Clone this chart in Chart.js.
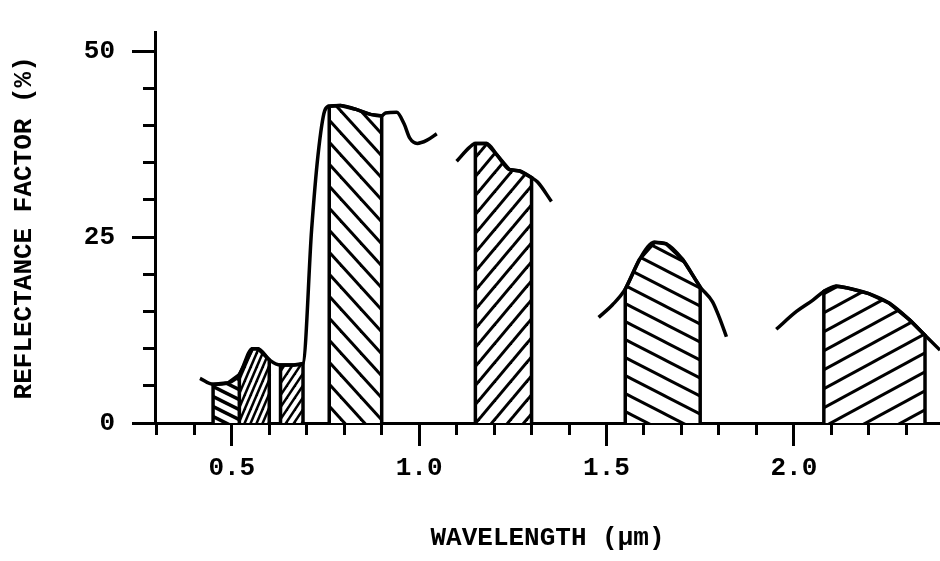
<!DOCTYPE html>
<html>

<head>
    <meta charset="UTF-8">
    <title>Reflectance Factor</title>
    <script src="https://cdn.jsdelivr.net/npm/chart.js"></script>
    <style>
        body { margin: 0; background: #fff; }
        #wrap { width: 940px; height: 561px; position: relative; }
    </style>
</head>

<body>
    <div id="wrap"><canvas id="chart"></canvas></div>
    <script>
        // reflectance curve (null = break in the drawn line)
        var wavelength = [0.415, 0.45, 0.49, 0.52, 0.555, 0.57, 0.60, 0.63, 0.665, 0.69, 0.713, 0.73, 0.748, 0.76,
            0.79, 0.83, 0.87, 0.90, 0.91, 0.94, 0.96, 0.975, 0.995, 1.02, 1.047,
            1.07,
            1.10, 1.135, 1.15, 1.18, 1.207, 1.24, 1.268, 1.30, 1.316, 1.353,
            1.40,
            1.479, 1.516, 1.55, 1.588, 1.628, 1.659, 1.703, 1.75, 1.783, 1.801, 1.82,
            1.90,
            1.953, 2.007, 2.05, 2.08, 2.113, 2.14, 2.20, 2.255, 2.308, 2.35, 2.39];
        var reflectance = [6.0, 5.2, 5.4, 6.5, 10.0, 10.0, 8.5, 7.8, 7.8, 8.0, 26, 36, 42, 42.6,
            42.7, 42.2, 41.5, 41.3, 41.7, 41.8, 40.2, 38.3, 37.6, 38.0, 38.9,
            null,
            35.2, 37.1, 37.6, 37.6, 36.1, 34.1, 33.9, 33.0, 32.4, 29.8,
            null,
            14.2, 15.9, 18.0, 22.0, 24.3, 24.1, 22.0, 18.3, 16.3, 14.2, 11.6,
            null,
            12.6, 15.0, 16.5, 17.7, 18.4, 18.2, 17.4, 16.1, 13.9, 11.8, 9.8];

        // hatched bands (µm)
        var bandStart = [0.45, 0.52, 0.63, 0.76, 1.15, 1.55, 2.08];
        var bandEnd = [0.52, 0.60, 0.69, 0.90, 1.30, 1.75, 2.35];

        var xMajorTicks = [0.5, 1.0, 1.5, 2.0];
        var xTickLabels = ['0.5', '1.0', '1.5', '2.0'];
        var xMinorTicks = [0.3, 0.4, 0.5, 0.6, 0.7, 0.8, 0.9, 1.0, 1.1, 1.2, 1.3, 1.4, 1.5, 1.6, 1.7, 1.8, 1.9, 2.0, 2.1, 2.2, 2.3];
        var yMajorTicks = [0, 25, 50];
        var yMinorTicks = [0, 5, 10, 15, 20, 25, 30, 35, 40, 45, 50];

        // hatch style per band: direction, tile width, tile height, line width
        var hatchDir = ['\\', '/', '/', '\\', '/', '\\', '/'];
        var hatchW = [20, 6, 8, 20, 16, 35, 35];
        var hatchH = [10, 14, 12, 22, 19, 18, 19];
        var hatchLw = [3.5, 2.5, 2.5, 3, 3, 3, 3];

        function hatch(dir, w, h, lw) {
            var c = document.createElement('canvas');
            c.width = w;
            c.height = h;
            var g = c.getContext('2d');
            g.fillStyle = '#fff';
            g.fillRect(0, 0, w, h);
            g.strokeStyle = '#000';
            g.lineWidth = lw;
            for (var k = -1; k <= 1; k++) {
                g.beginPath();
                if (dir === '\\') {
                    g.moveTo(-w, k * h - h);
                    g.lineTo(2 * w, k * h + 2 * h);
                } else {
                    g.moveTo(-w, k * h + 2 * h);
                    g.lineTo(2 * w, k * h - h);
                }
                g.stroke();
            }
            return g.createPattern(c, 'repeat');
        }

        var black = '#000';
        var tickFont = { family: 'Liberation Mono', size: 26, weight: 'bold' };
        var titleFont = { family: 'Liberation Mono', size: 26, weight: 'bold' };

        var datasets = [{
            data: wavelength.map(function (w, i) { return { x: w, y: reflectance[i] }; }),
            borderColor: black,
            borderWidth: 3.5,
            pointRadius: 0,
            fill: false,
            spanGaps: false,
            cubicInterpolationMode: 'monotone',
            order: 0
        }];

        bandStart.forEach(function (s, i) {
            var e = bandEnd[i];
            var pts = [{ x: s, y: 0 }];
            wavelength.forEach(function (w, j) {
                if (w >= s && w <= e && reflectance[j] !== null) pts.push({ x: w, y: reflectance[j] });
            });
            pts.push({ x: e, y: 0 });
            datasets.push({
                data: pts,
                borderColor: black,
                borderWidth: 3.5,
                borderJoinStyle: 'miter',
                backgroundColor: hatch(hatchDir[i], hatchW[i], hatchH[i], hatchLw[i]),
                fill: 'origin',
                pointRadius: 0,
                tension: 0,
                order: 1
            });
        });

        function tickSetter(list) {
            return function (scale) {
                scale.ticks = list.map(function (v) { return { value: v }; });
            };
        }

        var ctx = document.getElementById('chart').getContext('2d');
        var chart = new Chart(ctx, {
            type: 'line',
            data: { datasets: datasets },
            options: {
                responsive: true,
                maintainAspectRatio: false,
                animation: false,
                layout: { padding: { top: 20, left: 0, right: 0, bottom: 0 } },
                plugins: { legend: { display: false }, tooltip: { enabled: false } },
                scales: {
                    x: {
                        type: 'linear',
                        position: 'bottom',
                        weight: 1,
                        min: 0.295,
                        max: 2.39,
                        afterBuildTicks: tickSetter(xMajorTicks),
                        afterFit: function (s) { s.height = 138; },
                        grid: { drawOnChartArea: false, drawTicks: true, tickLength: 23, tickWidth: 3, tickColor: black },
                        border: { display: true, width: 3, color: black },
                        ticks: {
                            autoSkip: false,
                            maxRotation: 0,
                            color: black,
                            font: tickFont,
                            padding: 7,
                            callback: function (v, i) { return xTickLabels[i]; }
                        },
                        title: { display: true, text: 'WAVELENGTH (µm)', color: black, font: titleFont, padding: { top: 0, bottom: 7 } }
                    },
                    xMinor: {
                        type: 'linear',
                        position: 'bottom',
                        weight: 0,
                        min: 0.295,
                        max: 2.39,
                        afterBuildTicks: tickSetter(xMinorTicks),
                        afterFit: function (s) { s.height = 0; },
                        grid: { drawOnChartArea: false, drawTicks: true, tickLength: 12, tickWidth: 3, tickColor: black },
                        border: { display: true, width: 3, color: black },
                        ticks: { display: false }
                    },
                    y: {
                        type: 'linear',
                        position: 'left',
                        weight: 1,
                        min: 0,
                        max: 52.5,
                        afterBuildTicks: tickSetter(yMajorTicks),
                        afterFit: function (s) { s.width = 155; },
                        grid: { drawOnChartArea: false, drawTicks: true, tickLength: 23, tickWidth: 3, tickColor: black },
                        border: { display: true, width: 3, color: black },
                        ticks: { color: black, font: tickFont, padding: 17 },
                        title: { display: true, text: 'REFLECTANCE FACTOR (%)', color: black, font: titleFont, padding: { top: 9, bottom: 0 } }
                    },
                    yMinor: {
                        type: 'linear',
                        position: 'left',
                        weight: 0,
                        min: 0,
                        max: 52.5,
                        afterBuildTicks: tickSetter(yMinorTicks),
                        afterFit: function (s) { s.width = 0; },
                        grid: { drawOnChartArea: false, drawTicks: true, tickLength: 12, tickWidth: 3, tickColor: black },
                        border: { display: true, width: 3, color: black },
                        ticks: { display: false }
                    }
                }
            }
        });
    </script>
</body>

</html>
